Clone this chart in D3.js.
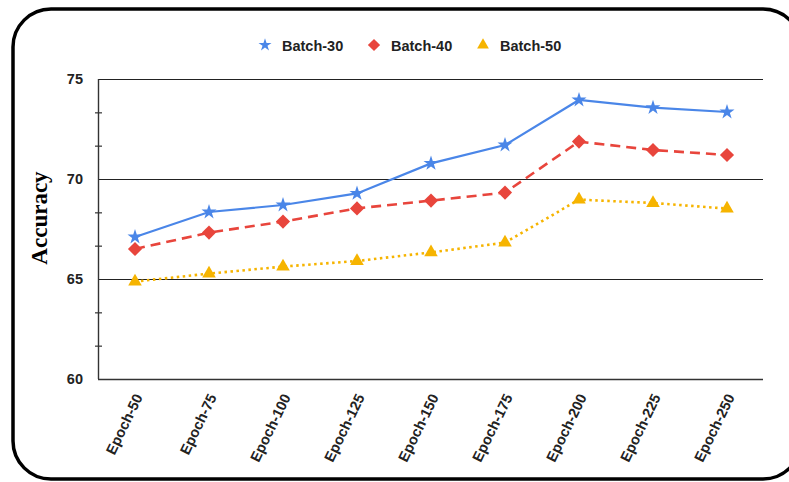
<!DOCTYPE html>
<html>
<head>
<meta charset="utf-8">
<script src="https://cdn.jsdelivr.net/npm/d3@7"></script>
<style>
  html, body { margin: 0; padding: 0; background: #fff; }
  svg { display: block; }
</style>
</head>
<body>
<svg id="chart" width="789" height="482"></svg>
<script>
const categories = ["Epoch-50", "Epoch-75", "Epoch-100", "Epoch-125", "Epoch-150", "Epoch-175", "Epoch-200", "Epoch-225", "Epoch-250"];
const batch30 = [67.1, 68.35, 68.7, 69.28, 70.78, 71.7, 73.95, 73.57, 73.35];
const batch40 = [66.5, 67.32, 67.87, 68.53, 68.92, 69.32, 71.87, 71.45, 71.2];
const batch50 = [64.87, 65.27, 65.62, 65.9, 66.33, 66.82, 68.97, 68.8, 68.52];
const seriesNames = ["Batch-30", "Batch-40", "Batch-50"];
const yTicks = [60, 65, 70, 75];
const yMinorTicks = [61.667, 63.333, 66.667, 68.333, 71.667, 73.333];
const yLabel = "Accuracy";

(function () {
const svg = d3.select("#chart");
const pLeft = 98, pRight = 764, pTop = 79, pBottom = 379;

const x = d3.scalePoint().domain(categories).range([pLeft, pRight]).padding(0.5);
const y = d3.scaleLinear().domain([60, 75]).range([pBottom, pTop]);

// frame
svg.append("rect")
  .attr("x", 13).attr("y", 9).attr("width", 788).attr("height", 470)
  .attr("rx", 38).attr("ry", 38)
  .attr("fill", "#fff").attr("stroke", "#000").attr("stroke-width", 3.5);

// gridlines
svg.append("g").selectAll("line").data(yTicks.filter(d => d > 60)).join("line")
  .attr("x1", pLeft).attr("x2", pRight - 1)
  .attr("y1", d => y(d) + 0.5).attr("y2", d => y(d) + 0.5)
  .attr("stroke", "#222").attr("stroke-width", 1.2);

// axes
svg.append("line").attr("x1", pLeft).attr("x2", pRight - 1)
  .attr("y1", y(60) + 0.5).attr("y2", y(60) + 0.5)
  .attr("stroke", "#333").attr("stroke-width", 1.4);
svg.append("line").attr("x1", pLeft + 0.5).attr("x2", pLeft + 0.5)
  .attr("y1", y(75)).attr("y2", y(60))
  .attr("stroke", "#333").attr("stroke-width", 1.4);

svg.append("g").selectAll("line").data(yMinorTicks).join("line")
  .attr("x1", pLeft - 3).attr("x2", pLeft + 4)
  .attr("y1", d => y(d) + 0.5).attr("y2", d => y(d) + 0.5)
  .attr("stroke", "#333").attr("stroke-width", 1.2);

// y tick labels
svg.append("g").selectAll("text").data(yTicks).join("text")
  .attr("x", 83).attr("y", d => y(d) + 5)
  .attr("text-anchor", "end")
  .attr("font-family", "Liberation Sans, Arial, sans-serif")
  .attr("font-weight", "bold").attr("font-size", 14.5)
  .attr("fill", "#222")
  .text(d => d);

// x tick labels
svg.append("g").selectAll("text").data(categories).join("text")
  .attr("transform", d => `translate(${x(d) + 8},${397}) rotate(-64)`)
  .attr("text-anchor", "end")
  .attr("font-family", "Liberation Sans, Arial, sans-serif")
  .attr("font-weight", "bold").attr("font-size", 14.5)
  .attr("fill", "#222")
  .text(d => d);

// y axis title
svg.append("text")
  .attr("transform", `translate(47,218) rotate(-90)`)
  .attr("text-anchor", "middle")
  .attr("font-family", "Liberation Serif, Times New Roman, serif")
  .attr("font-weight", "bold").attr("font-size", 23)
  .attr("fill", "#000")
  .text(yLabel);

const series = [
  { name: seriesNames[0], values: batch30, color: "#4a86e8", dash: null, width: 2.2, symbol: d3.symbolStar, size: 70, rot: 0 },
  { name: seriesNames[1], values: batch40, color: "#e8453c", dash: "10,6", width: 2.6, symbol: d3.symbolSquare, size: 100, rot: 45 },
  { name: seriesNames[2], values: batch50, color: "#f6b400", dash: "2.5,3.5", width: 2.6, symbol: d3.symbolTriangle, size: 80, rot: 0 }
];

const line = d3.line().x((d, i) => x(categories[i])).y(d => y(d));

series.slice().reverse().forEach(s => {
  const g = svg.append("g");
  g.append("path").datum(s.values)
    .attr("d", line)
    .attr("fill", "none")
    .attr("stroke", s.color)
    .attr("stroke-width", s.width)
    .attr("stroke-dasharray", s.dash);
  g.selectAll("path.m").data(s.values).join("path").attr("class", "m")
    .attr("d", d3.symbol().type(s.symbol).size(s.size))
    .attr("transform", (d, i) => `translate(${x(categories[i])},${y(d)}) rotate(${s.rot})`)
    .attr("fill", s.color);
});

// legend
const legendX = [265, 374, 483];
const lg = svg.append("g");
series.forEach((s, i) => {
  lg.append("path")
    .attr("d", d3.symbol().type(s.symbol).size(s.size * 0.75))
    .attr("transform", `translate(${legendX[i]},${45}) rotate(${s.rot})`)
    .attr("fill", s.color);
  lg.append("text")
    .attr("x", legendX[i] + 17).attr("y", 50.5)
    .attr("font-family", "Liberation Sans, Arial, sans-serif")
    .attr("font-weight", "bold").attr("font-size", 14.5)
    .attr("fill", "#222")
    .text(s.name);
});
})();
</script>
</body>
</html>
